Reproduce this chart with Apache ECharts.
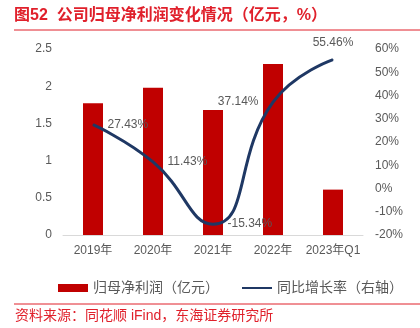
<!DOCTYPE html>
<html><head><meta charset="utf-8">
<script src="https://cdn.jsdelivr.net/npm/echarts@6/dist/echarts.min.js"></script>
<style>html,body{margin:0;padding:0;background:#fff}#c{width:420px;height:328px}</style>
</head><body><div id="c"></div>
<script>
const categories = ['2019年','2020年','2021年','2022年','2023年Q1'];
const profit = [1.77, 1.98, 1.68, 2.30, 0.61];
const growth = [27.43, 11.43, -15.34, 37.14, 55.46];
const leftTicks = {min:0, max:2.5, interval:0.5};
const rightTicks = {min:-20, max:60, interval:10};
const labelPos = ['right','right','right','left','top'];

const FONT = '"Liberation Sans","Noto Sans CJK SC",sans-serif';
const GRAY = '#595959';
const chart = echarts.init(document.getElementById('c'), null, {renderer:'canvas'});
chart.setOption({
  animation:false,
  textStyle:{fontFamily:FONT},
  grid:{left:63, right:57, top:49, bottom:93},
  legend:{
    left:53, top:276, itemWidth:30, itemHeight:8, itemGap:22,
    textStyle:{fontSize:14, color:GRAY, fontFamily:FONT},
    data:[{name:'归母净利润（亿元）', icon:'rect'},
          {name:'同比增长率（右轴）', itemStyle:{opacity:0}}]
  },
  graphic:[
    {type:'text', left:14, top:8, style:{text:'图52  公司归母净利润变化情况（亿元，%）', fill:'#E0202B', font:'bold 16px '+FONT}},
    {type:'line', shape:{x1:14,y1:30,x2:420,y2:30}, style:{stroke:'#E0202B', lineWidth:1}},
    {type:'line', shape:{x1:14,y1:304,x2:420,y2:304}, style:{stroke:'#E0202B', lineWidth:1}},
    {type:'text', left:15, top:309, style:{text:'资料来源：同花顺 iFind，东海证券研究所', fill:'#E0202B', font:'14px '+FONT}}
  ],
  xAxis:{
    type:'category', data:categories,
    axisLine:{lineStyle:{color:'#D9D9D9'}}, axisTick:{show:false},
    axisLabel:{color:GRAY, fontSize:12, margin:10, interval:0}
  },
  yAxis:[
    {type:'value', min:leftTicks.min, max:leftTicks.max, interval:leftTicks.interval,
     splitLine:{show:false}, axisLine:{show:false}, axisTick:{show:false},
     axisLabel:{color:GRAY, fontSize:12, margin:11}},
    {type:'value', min:rightTicks.min, max:rightTicks.max, interval:rightTicks.interval,
     splitLine:{show:false}, axisLine:{show:false}, axisTick:{show:false},
     axisLabel:{color:GRAY, fontSize:12, margin:12, formatter:'{value}%'}}
  ],
  series:[
    {name:'归母净利润（亿元）', type:'bar', data:profit, barWidth:20,
     itemStyle:{color:'#C00000'}},
    {name:'同比增长率（右轴）', type:'line', yAxisIndex:1, smooth:0.5,
     symbol:'circle', symbolSize:1, showSymbol:true,
     lineStyle:{color:'#1F3864', width:3}, itemStyle:{color:'#1F3864'},
     data:growth.map((v,i)=>({value:v, label:{show:true, position:labelPos[i], distance:labelPos[i]==='top'?10:14,
       formatter:p=>p.value.toFixed(2)+'%', color:GRAY, fontSize:12}}))}
  ]
});
</script></body></html>
